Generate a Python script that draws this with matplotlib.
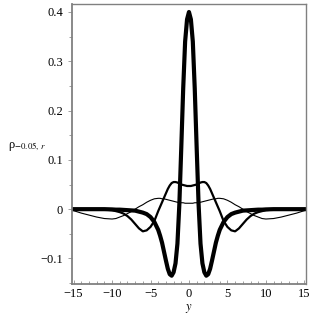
import numpy as np
import matplotlib
matplotlib.use("Agg")
import matplotlib.pyplot as plt

plt.rcParams['font.family'] = ['Liberation Serif', 'DejaVu Serif']
plt.rcParams['mathtext.fontset'] = 'stix'

# sample points (y) and values
y_pts = [-15, -14, -13, -12, -11, -10, -9.5, -9, -8.5, -8, -7.5, -7, -6.5, -6, -5.5, -5,
         -4.5, -4, -3.75, -3.5, -3.25, -3, -2.75, -2.5, -2.25, -2, -1.75, -1.5, -1.25, -1,
         -0.75, -0.5, -0.25, 0, 0.25, 0.5, 0.75, 1, 1.25, 1.5, 1.75, 2, 2.25, 2.5, 2.75, 3,
         3.25, 3.5, 3.75, 4, 4.5, 5, 5.5, 6, 6.5, 7, 7.5, 8, 8.5, 9, 9.5, 10, 11, 12, 13, 14, 15]

rho_thick = [0, 0, 0, 0, 0, -0.0005, -0.001, -0.001, -0.0015, -0.002, -0.0025, -0.003, -0.005, -0.007, -0.010, -0.016,
             -0.026, -0.042, -0.054, -0.068, -0.086, -0.104, -0.121, -0.132, -0.135, -0.128, -0.110, -0.070, 0.010, 0.125,
             0.245, 0.340, 0.385, 0.400, 0.385, 0.340, 0.245, 0.125, 0.010, -0.070, -0.110, -0.128, -0.135, -0.132, -0.121, -0.104,
             -0.086, -0.068, -0.054, -0.042, -0.026, -0.016, -0.010, -0.007, -0.005, -0.003, -0.0025, -0.002, -0.0015, -0.001, -0.001, -0.0005, 0, 0, 0, 0, 0]

rho_medium = [0, 0, 0, 0, -0.001, -0.002, -0.004, -0.006, -0.009, -0.014, -0.021, -0.030, -0.039, -0.045, -0.043, -0.036,
              -0.024, -0.004, 0.005, 0.014, 0.023, 0.032, 0.041, 0.048, 0.053, 0.055, 0.055, 0.054, 0.052, 0.050,
              0.049, 0.048, 0.047, 0.047, 0.047, 0.048, 0.049, 0.050, 0.052, 0.054, 0.055, 0.055, 0.053, 0.048, 0.041, 0.032,
              0.023, 0.014, 0.005, -0.004, -0.024, -0.036, -0.043, -0.045, -0.039, -0.030, -0.021, -0.014, -0.009, -0.006, -0.004, -0.002, -0.001, 0, 0, 0, 0]

rho_thin = [-0.003, -0.008, -0.012, -0.016, -0.019, -0.020, -0.019, -0.016, -0.013, -0.009, -0.005, 0.000, 0.005, 0.009, 0.014, 0.018,
            0.021, 0.022, 0.022, 0.021, 0.021, 0.020, 0.019, 0.018, 0.017, 0.016, 0.015, 0.014, 0.014, 0.013,
            0.013, 0.012, 0.012, 0.012, 0.012, 0.012, 0.013, 0.013, 0.014, 0.014, 0.015, 0.016, 0.017, 0.018, 0.019, 0.020,
            0.021, 0.021, 0.022, 0.022, 0.021, 0.018, 0.014, 0.009, 0.005, 0.000, -0.005, -0.009, -0.013, -0.016, -0.019, -0.020, -0.019, -0.016, -0.012, -0.008, -0.003]

x_ticks = [-15, -10, -5, 0, 5, 10, 15]
x_labels = ['\u221215', '\u221210', '\u22125', '0', '5', '10', '15']
y_ticks = [-0.1, 0, 0.1, 0.2, 0.3, 0.4]
y_labels = ['\u22120.1', '0', '0.1', '0.2', '0.3', '0.4']

fig = plt.figure(figsize=(3.16, 3.16), dpi=100)
ax = fig.add_axes([0.228, 0.101, 0.740, 0.886])

ax.plot(y_pts, rho_thin, color='black', lw=0.8)
ax.plot(y_pts, rho_medium, color='black', lw=1.6)
ax.plot(y_pts, rho_thick, color='black', lw=3.0)

ax.set_xlim(-15.2, 15.2)
ax.set_ylim(-0.152, 0.416)

ax.set_xticks(x_ticks)
ax.set_xticklabels(x_labels)
ax.set_yticks(y_ticks)
ax.set_yticklabels(y_labels)
ax.set_xticks(np.arange(-15, 16, 1), minor=True)
ax.set_yticks(np.arange(-0.15, 0.41, 0.05), minor=True)

ax.tick_params(axis='both', which='both', colors='#909090', labelcolor='black', labelsize=9, width=0.6)
ax.tick_params(axis='x', which='major', direction='in', length=3, pad=3)
ax.tick_params(axis='x', which='minor', direction='in', length=2)
ax.tick_params(axis='y', which='major', direction='out', length=3)
ax.tick_params(axis='y', which='minor', direction='out', length=2)

for s in ['left', 'bottom']:
    ax.spines[s].set_color('#808080')
    ax.spines[s].set_linewidth(1.3)
for s in ['top', 'right']:
    ax.spines[s].set_color('#808080')
    ax.spines[s].set_linewidth(1.0)

ax.set_xlabel('$y$', fontsize=9, labelpad=1)
fig.text(0.025, 0.535, '\u03c1$_{-0.05,\\,r}$', fontsize=9, ha='left', va='center')

fig.savefig('out.png', dpi=100)
